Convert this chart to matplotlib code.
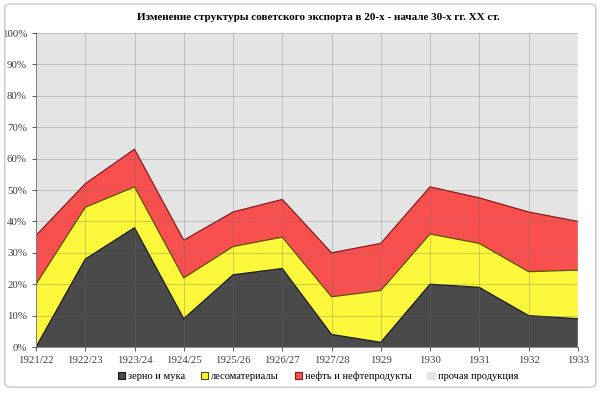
import matplotlib.pyplot as plt
import numpy as np
from matplotlib.patches import FancyBboxPatch, Patch

years = ["1921/22", "1922/23", "1923/24", "1924/25", "1925/26", "1926/27",
         "1927/28", "1929", "1930", "1931", "1932", "1933"]

# shares of export, %
grain = [0, 28, 38, 9, 23, 25, 4, 1.5, 20, 19, 10, 9]
timber = [20, 16.5, 13, 13, 9, 10, 12, 16.5, 16, 14, 14, 15.5]
oil = [15.5, 7.5, 12, 12, 11, 12, 14, 15, 15, 14.5, 19, 15.5]
other = [100 - g - t - o for g, t, o in zip(grain, timber, oil)]

labels = ["зерно и мука", "лесоматериалы", "нефть и нефтепродукты", "прочая продукция"]
fills = ["#4a4a4a", "#fbf83c", "#f84f4f", "#e4e4e4"]
edges = ["#1a1a1a", "#5a5200", "#8a1a1a", "#e4e4e4"]

plt.rcParams["font.family"] = ["Liberation Serif", "DejaVu Serif"]

fig = plt.figure(figsize=(6.0, 3.93), dpi=100)
fig.patches.append(FancyBboxPatch((0.008, 0.015), 0.985, 0.975,
                                  boxstyle="round,pad=0,rounding_size=0.01",
                                  transform=fig.transFigure, facecolor="none",
                                  edgecolor="#c8c8c8", linewidth=1.0))
ax = fig.add_axes([0.06, 0.117, 0.903, 0.799])

x = np.arange(len(years))
series = [grain, timber, oil, other]
base = np.zeros(len(years))
for vals, fc, ec in zip(series, fills, edges):
    top = base + np.array(vals)
    ax.fill_between(x, base, top, facecolor=fc, edgecolor="none", zorder=1)
    if ec != fills[-1]:
        ax.plot(x, top, color=ec, linewidth=0.9, zorder=2)
    base = top

ax.set_xlim(0, len(years) - 1)
ax.set_ylim(0, 100)
ax.set_xticks(x)
ax.set_xticklabels(years)
ax.set_yticks(np.arange(0, 101, 10))
ax.set_yticklabels([f"{v}%" for v in range(0, 101, 10)])
ax.tick_params(labelsize=7.8, colors="#404040", length=3, width=0.6)
ax.grid(True, color="#6a6a6a", linewidth=0.6, alpha=0.35, zorder=3)
ax.set_axisbelow(False)
for side in ["top", "right"]:
    ax.spines[side].set_visible(False)
for side in ["left", "bottom"]:
    ax.spines[side].set_color("#888888")
    ax.spines[side].set_linewidth(0.7)

fig.text(0.53, 0.955, "Изменение структуры советского экспорта в 20-х - начале 30-х гг. XX ст.",
         ha="center", va="center", fontsize=8, fontweight="bold")

handles = [Patch(facecolor=f, edgecolor=e, linewidth=0.8) for f, e in zip(fills, edges)]
handles[3] = Patch(facecolor=fills[3], edgecolor="#e4e4e4")
fig.legend(handles, labels, loc="center", bbox_to_anchor=(0.53, 0.042), ncol=4,
           frameon=False, fontsize=7.5, handlelength=0.7, handleheight=0.7,
           handletextpad=0.3, columnspacing=1.5)

fig.savefig("out.png", dpi=100)
